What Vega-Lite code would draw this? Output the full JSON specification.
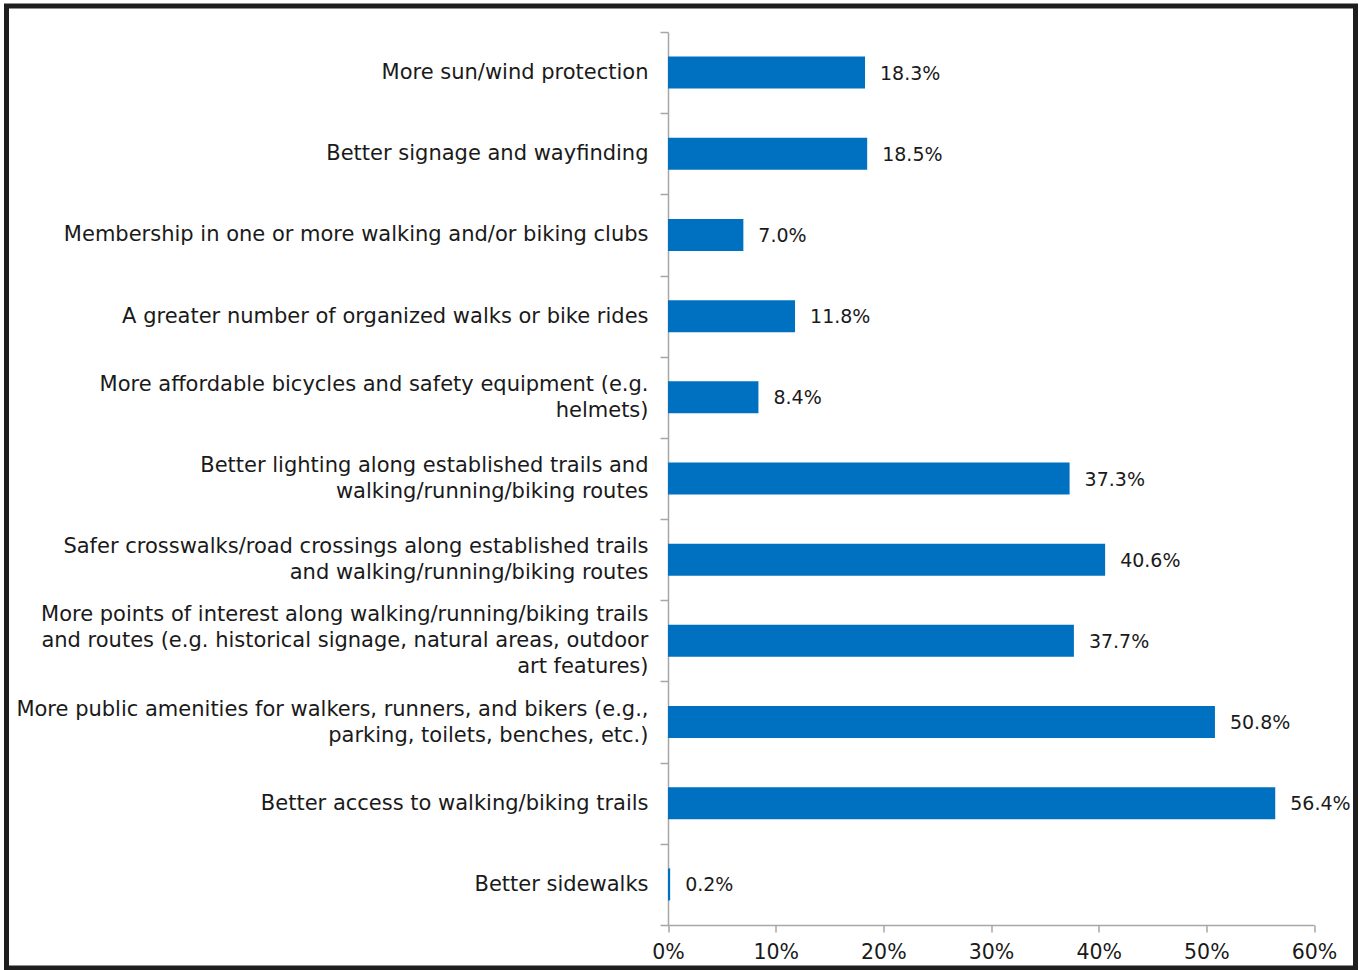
{
  "$schema": "https://vega.github.io/schema/vega-lite/v6.json",
  "autosize": {"type": "none"},
  "padding": {"left": 6.5, "top": 6, "right": 3.5, "bottom": 2},
  "width": 1349,
  "height": 962,
  "background": "white",
  "config": {
    "view": {"stroke": "#1e1e1e", "strokeWidth": 5},
    "font": "DejaVu Sans"
  },
  "data": {
    "values": [
      {"item": "More sun/wind protection", "share": 0.183},
      {"item": "Better signage and wayfinding", "share": 0.185},
      {"item": "Membership in one or more walking and/or biking clubs", "share": 0.070},
      {"item": "A greater number of organized walks or bike rides", "share": 0.118},
      {"item": "More affordable bicycles and safety equipment (e.g.|helmets)", "share": 0.084},
      {"item": "Better lighting along established trails and|walking/running/biking routes", "share": 0.373},
      {"item": "Safer crosswalks/road crossings along established trails|and walking/running/biking routes", "share": 0.406},
      {"item": "More points of interest along walking/running/biking trails|and routes (e.g. historical signage, natural areas, outdoor|art features)", "share": 0.377},
      {"item": "More public amenities for walkers, runners, and bikers (e.g.,|parking, toilets, benches, etc.)", "share": 0.508},
      {"item": "Better access to walking/biking trails", "share": 0.564},
      {"item": "Better sidewalks", "share": 0.002}
    ]
  },
  "encoding": {
    "y": {
      "field": "item",
      "type": "nominal",
      "sort": null,
      "title": null,
      "scale": {"range": [26, 919], "paddingInner": 0, "paddingOuter": 0},
      "axis": {
        "orient": "left",
        "offset": -661.5,
        "tickBand": "extent",
        "tickSize": 8,
        "tickColor": "#a6a6a6",
        "tickWidth": 1.5,
        "domainColor": "#a6a6a6",
        "domainWidth": 1.5,
        "labelPadding": 12,
        "labelFontSize": 21,
        "labelColor": "#1a1a1a",
        "labelLimit": 800,
        "labelLineHeight": 26,
        "labelAlign": "right",
        "labelBaseline": "middle",
        "labelExpr": "split(datum.label, '|')",
        "labelOffset": {
          "condition": [
            {"test": "length(split(datum.value, '|')) == 2", "value": -13},
            {"test": "length(split(datum.value, '|')) == 3", "value": -26}
          ],
          "value": 0
        }
      }
    },
    "x": {
      "field": "share",
      "type": "quantitative",
      "title": null,
      "scale": {"domain": [0, 0.6], "range": [661.5, 1307.5], "nice": false, "zero": true},
      "axis": {
        "orient": "bottom",
        "offset": -43,
        "values": [0, 0.1, 0.2, 0.3, 0.4, 0.5, 0.6],
        "format": ".0%",
        "grid": false,
        "tickSize": 7,
        "tickColor": "#a6a6a6",
        "tickWidth": 1.5,
        "domainColor": "#a6a6a6",
        "domainWidth": 1.5,
        "labelPadding": 10,
        "labelFontSize": 20.5,
        "labelColor": "#1a1a1a",
        "labelFlush": false
      }
    }
  },
  "layer": [
    {
      "mark": {"type": "bar", "color": "#0070C0", "height": {"band": 0.394}}
    },
    {
      "mark": {"type": "text", "align": "left", "baseline": "middle", "dx": 15, "dy": 1, "fontSize": 19, "color": "#1a1a1a"},
      "encoding": {
        "text": {"field": "share", "type": "quantitative", "format": ".1%"}
      }
    }
  ]
}
